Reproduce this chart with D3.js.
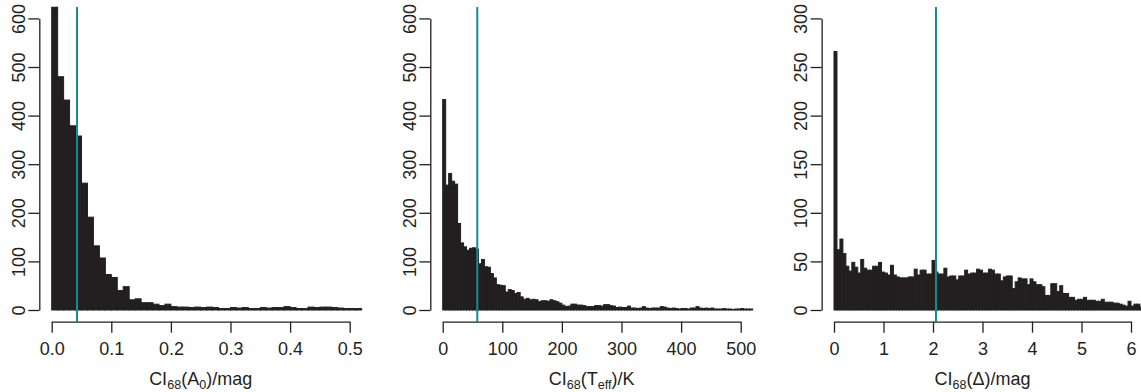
<!DOCTYPE html>
<html><head><meta charset="utf-8">
<script src="https://cdn.jsdelivr.net/npm/d3@7"></script>
<style>body{margin:0;background:#fff}svg{display:block}</style>
</head><body>
<svg id="c" width="1141" height="392"></svg>
<script>
// ---- data (histogram counts per bin) ----
const a0Counts = [720,480,432,379,358,261,191,132,107,73,67,40,48,21,23,15,15,12,9,12,7,6,6,5,6,5,6,5,3,3,5,4,5,3,3,5,4,5,5,7,5,3,3,6,5,6,6,5,4,3,3,3];
const teffCounts = [433,257,281,265,259,178,138,130,123,127,
  128,125,95,104,89,88,75,66,52,51,
  50,37,42,40,34,36,27,22,24,21,
  22,21,17,19,19,18,21,19,17,14,
  10,7,8,12,12,10,10,9,7,7,
  7,9,9,8,11,11,9,8,5,6,
  5,5,8,4,4,3,4,7,4,3,
  4,4,4,7,6,4,3,4,3,2,
  3,3,2,4,4,7,4,3,4,3,
  4,2,2,2,3,2,2,1,2,2,
  3,2,2,2];
const deltaCounts = [266,62,73,58,45,40,49,44,38,52,
  43,41,41,45,45,49,39,38,36,46,
  36,34,33,33,33,34,34,42,36,41,
  41,37,37,51,39,37,37,43,34,35,
  35,31,35,35,41,37,38,38,42,41,
  38,38,42,41,37,37,30,34,35,35,
  22,29,33,32,32,26,32,29,26,26,
  24,15,15,27,27,19,25,17,17,13,
  13,10,11,11,13,10,10,10,9,9,
  11,8,8,8,7,7,6,5,4,9,
  4,6,6,3];
const a0BinWidth = 0.01, teffBinWidth = 5, deltaBinWidth = 0.06;
const a0Median = 0.0425, teffMedian = 58, deltaMedian = 2.06;
const a0XTicks = [0, 0.1, 0.2, 0.3, 0.4, 0.5];
const teffXTicks = [0, 100, 200, 300, 400, 500];
const deltaXTicks = [0, 1, 2, 3, 4, 5, 6];
const countTicks600 = [0, 100, 200, 300, 400, 500, 600];
const countTicks300 = [0, 50, 100, 150, 200, 250, 300];
const a0Title = [["CI",0],["68",1],["(A",0],["0",1],[")/mag",0]];
const teffTitle = [["CI",0],["68",1],["(T",0],["eff",1],[")/K",0]];
const deltaTitle = [["CI",0],["68",1],["(\u0394)/mag",0]];

const ink = "#231f20", teal = "#148b91";
const font = "'Liberation Sans', Arial, Helvetica, sans-serif";

const panels = [
  {counts:a0Counts, bw:a0BinWidth, med:a0Median, xt:a0XTicks, yt:countTicks600, fmt:d3.format(".1f"), px:[51.7,349.7], title:a0Title},
  {counts:teffCounts, bw:teffBinWidth, med:teffMedian, xt:teffXTicks, yt:countTicks600, fmt:d3.format("d"), px:[442.7,740.7], title:teffTitle},
  {counts:deltaCounts, bw:deltaBinWidth, med:deltaMedian, xt:deltaXTicks, yt:countTicks300, fmt:d3.format("d"), px:[834,1131], title:deltaTitle}
];

const svg = d3.select("#c");
panels.forEach((p, pi) => {
  const extent = p.counts.length * p.bw;
  const lastX = p.xt[p.xt.length-1];
  const x = d3.scaleLinear().domain([0, lastX]).range(p.px);
  const yMax = p.yt[p.yt.length-1];
  const y = d3.scaleLinear().domain([0, yMax]).range([310, 18.4]);
  const L = x(-0.04*extent), R = x(1.04*extent);
  const T = y(1.04*yMax), B = y(-0.04*yMax);

  const clipId = "clip" + pi;
  svg.append("clipPath").attr("id", clipId).append("rect")
    .attr("x", L).attr("y", T).attr("width", R-L).attr("height", B-T);
  const g = svg.append("g").attr("clip-path", `url(#${clipId})`);
  g.selectAll("rect.bar").data(p.counts).join("rect").attr("class","bar")
    .attr("x", (d,i) => x(i*p.bw))
    .attr("width", (d,i) => x((i+1)*p.bw) - x(i*p.bw))
    .attr("y", d => y(d))
    .attr("height", d => y(0) - y(d))
    .attr("fill", ink).attr("stroke", ink).attr("stroke-width", 1);
  g.append("line").attr("x1", x(p.med)).attr("x2", x(p.med))
    .attr("y1", T).attr("y2", B).attr("stroke", teal).attr("stroke-width", 2);

  // y axis
  const ya = svg.append("g").attr("transform", `translate(${L},0)`)
    .call(d3.axisLeft(y).tickValues(p.yt).tickSize(11).tickSizeOuter(0).tickFormat(d3.format("d")));
  ya.attr("color", ink).attr("font-family", font).attr("font-size", 18);
  ya.selectAll("path,line").attr("stroke-width", 1.3);
  ya.selectAll("text").attr("transform", "rotate(-90)").attr("x", 0).attr("y", -14.5)
    .attr("dy", null).attr("text-anchor", "middle").attr("fill", ink);

  // x axis
  const xa = svg.append("g").attr("transform", `translate(0,${B})`)
    .call(d3.axisBottom(x).tickValues(p.xt).tickSize(11).tickSizeOuter(0).tickFormat(p.fmt));
  xa.attr("color", ink).attr("font-family", font).attr("font-size", 18);
  xa.selectAll("path,line").attr("stroke-width", 1.3);
  xa.selectAll("text").attr("y", 21).attr("fill", ink);

  // title
  const t = svg.append("text").attr("x", (L+R)/2 - 6).attr("y", 385)
    .attr("text-anchor", "middle").attr("font-family", font).attr("font-size", 18).attr("fill", ink);
  let shifted = 0;
  p.title.forEach(([s, sub]) => {
    const ts = t.append("tspan").text(s);
    if (sub && !shifted) { ts.attr("dy", 4).attr("font-size", 12.6); shifted = 1; }
    else if (sub) { ts.attr("font-size", 12.6); }
    else if (shifted) { ts.attr("dy", -4); shifted = 0; }
  });
});
</script>
</body></html>
